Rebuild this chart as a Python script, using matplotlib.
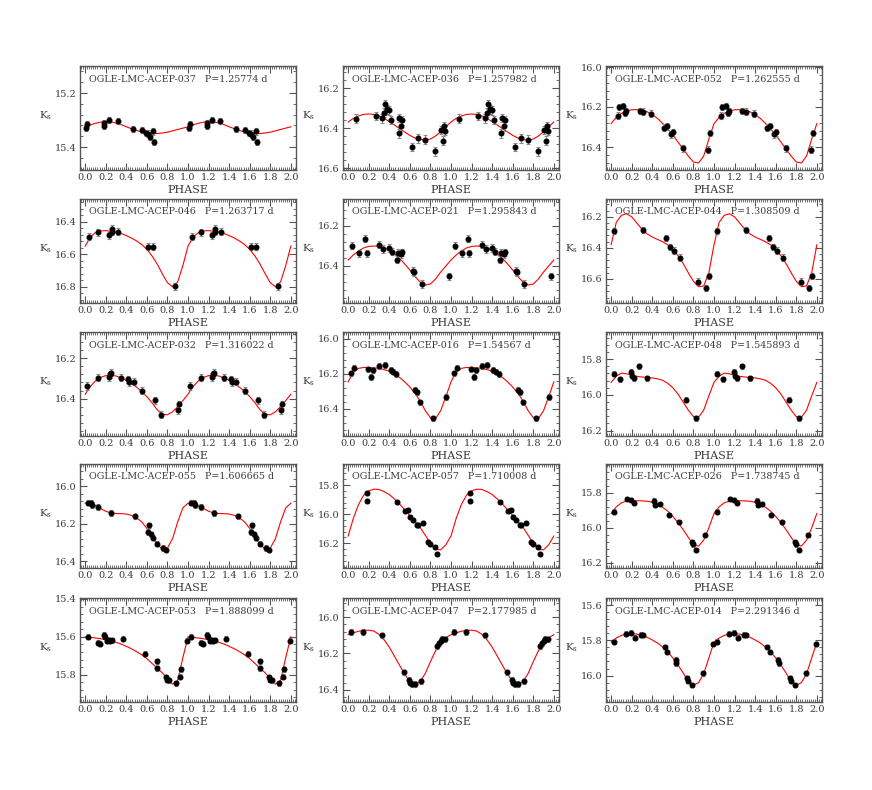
import numpy as np
import matplotlib
matplotlib.use("Agg")
import matplotlib.pyplot as plt
from matplotlib.ticker import MultipleLocator

plt.rcParams["font.family"] = ["DejaVu Serif"]
plt.rcParams["mathtext.fontset"] = "dejavuserif"

# phase grid of the red fit samples (one cycle)
fit_phase = np.arange(20) * 0.05

# ---- OGLE-LMC-ACEP-037
ph037 = [0.006, 0.02, 0.185, 0.185, 0.235, 0.315, 0.47, 0.55, 0.59, 0.61, 0.63, 0.66, 0.67]
k037 = [15.33, 15.314, 15.321, 15.311, 15.30, 15.303, 15.333, 15.337, 15.348, 15.35, 15.363, 15.342, 15.381]
fit037 = [15.325, 15.318, 15.312, 15.308, 15.306, 15.307, 15.311, 15.317, 15.325, 15.332,
          15.339, 15.344, 15.348, 15.35, 15.35, 15.348, 15.345, 15.34, 15.335, 15.33]

# ---- OGLE-LMC-ACEP-036
ph036 = [0.075, 0.266, 0.33, 0.346, 0.362, 0.381, 0.40, 0.42, 0.49, 0.496, 0.512, 0.528,
         0.618, 0.68, 0.749, 0.842, 0.906, 0.922, 0.931, 0.944]
k036 = [16.353, 16.34, 16.352, 16.323, 16.282, 16.307, 16.312, 16.36, 16.427, 16.35, 16.392, 16.362,
        16.495, 16.452, 16.459, 16.517, 16.41, 16.464, 16.392, 16.413]
fit036 = [16.37, 16.352, 16.34, 16.332, 16.33, 16.332, 16.34, 16.352, 16.368, 16.385,
          16.403, 16.42, 16.437, 16.45, 16.458, 16.46, 16.455, 16.44, 16.418, 16.393]

# ---- OGLE-LMC-ACEP-052
ph052 = [0.068, 0.074, 0.116, 0.135, 0.145, 0.277, 0.313, 0.387, 0.516, 0.542, 0.584, 0.60, 0.703, 0.942, 0.958]
k052 = [16.243, 16.20, 16.195, 16.23, 16.22, 16.22, 16.223, 16.233, 16.303, 16.297, 16.337, 16.327, 16.407, 16.413, 16.33]
fit052 = [16.283, 16.252, 16.232, 16.22, 16.214, 16.213, 16.216, 16.224, 16.238, 16.257,
          16.282, 16.31, 16.34, 16.375, 16.41, 16.445, 16.475, 16.48, 16.445, 16.36]

# ---- OGLE-LMC-ACEP-046
ph046 = [0.042, 0.129, 0.232, 0.258, 0.265, 0.323, 0.613, 0.658, 0.871]
k046 = [16.492, 16.466, 16.482, 16.462, 16.443, 16.462, 16.554, 16.554, 16.796]
fit046 = [16.55, 16.495, 16.467, 16.456, 16.455, 16.458, 16.463, 16.472, 16.485, 16.50,
          16.518, 16.54, 16.57, 16.61, 16.66, 16.72, 16.775, 16.80, 16.77, 16.67]

# ---- OGLE-LMC-ACEP-021
ph021 = [0.035, 0.106, 0.163, 0.179, 0.298, 0.342, 0.394, 0.426, 0.477, 0.483, 0.512, 0.522,
         0.634, 0.643, 0.714, 0.976]
k021 = [16.298, 16.337, 16.264, 16.337, 16.293, 16.315, 16.31, 16.329, 16.369, 16.334, 16.341, 16.332,
        16.425, 16.432, 16.49, 16.451]
fit021 = [16.37, 16.345, 16.325, 16.31, 16.302, 16.30, 16.302, 16.31, 16.322, 16.34,
          16.362, 16.39, 16.42, 16.453, 16.48, 16.495, 16.49, 16.465, 16.43, 16.40]

# ---- OGLE-LMC-ACEP-044
ph044 = [0.029, 0.313, 0.535, 0.571, 0.61, 0.671, 0.842, 0.926, 0.948]
k044 = [16.292, 16.286, 16.338, 16.392, 16.417, 16.462, 16.617, 16.658, 16.581]
fit044 = [16.38, 16.235, 16.19, 16.18, 16.20, 16.24, 16.28, 16.31, 16.33, 16.345,
          16.36, 16.38, 16.41, 16.45, 16.50, 16.56, 16.615, 16.65, 16.645, 16.56]

# ---- OGLE-LMC-ACEP-032
ph032 = [0.019, 0.123, 0.235, 0.239, 0.252, 0.348, 0.419, 0.426, 0.471, 0.555, 0.677, 0.742, 0.903, 0.913]
k032 = [16.338, 16.297, 16.293, 16.279, 16.272, 16.297, 16.305, 16.32, 16.316, 16.361, 16.408, 16.48, 16.456, 16.428]
fit032 = [16.378, 16.34, 16.312, 16.295, 16.286, 16.284, 16.288, 16.297, 16.31, 16.325,
          16.343, 16.365, 16.39, 16.42, 16.455, 16.478, 16.48, 16.465, 16.44, 16.41]

# ---- OGLE-LMC-ACEP-016
ph016 = [0.032, 0.055, 0.193, 0.219, 0.241, 0.302, 0.354, 0.412, 0.437, 0.463, 0.65, 0.669, 0.701, 0.826, 0.952]
k016 = [16.197, 16.164, 16.174, 16.216, 16.18, 16.155, 16.149, 16.178, 16.186, 16.20, 16.29, 16.306, 16.363, 16.454, 16.332]
fit016 = [16.245, 16.19, 16.168, 16.163, 16.163, 16.165, 16.168, 16.175, 16.185, 16.20,
          16.22, 16.245, 16.275, 16.31, 16.355, 16.41, 16.45, 16.455, 16.41, 16.33]

# ---- OGLE-LMC-ACEP-048
ph048 = [0.032, 0.084, 0.19, 0.203, 0.226, 0.271, 0.348, 0.729, 0.826]
k048 = [15.881, 15.913, 15.871, 15.892, 15.907, 15.841, 15.908, 16.027, 16.13]
fit048 = [15.93, 15.895, 15.878, 15.882, 15.89, 15.896, 15.90, 15.902, 15.905, 15.91,
          15.918, 15.935, 15.96, 15.995, 16.04, 16.085, 16.122, 16.125, 16.085, 16.005]

# ---- OGLE-LMC-ACEP-055
ph055 = [0.026, 0.055, 0.068, 0.129, 0.252, 0.484, 0.613, 0.623, 0.639, 0.658, 0.703, 0.755, 0.79]
k055 = [16.087, 16.087, 16.099, 16.111, 16.143, 16.161, 16.244, 16.209, 16.257, 16.274, 16.306, 16.329, 16.338]
fit055 = [16.09, 16.093, 16.103, 16.118, 16.133, 16.142, 16.145, 16.146, 16.148, 16.155,
          16.168, 16.19, 16.225, 16.27, 16.31, 16.335, 16.33, 16.28, 16.19, 16.115]

# ---- OGLE-LMC-ACEP-057
ph057 = [0.18, 0.18, 0.476, 0.553, 0.579, 0.605, 0.633, 0.666, 0.682, 0.727, 0.778, 0.80, 0.849, 0.865]
k057 = [15.855, 15.908, 15.915, 15.979, 15.97, 16.021, 16.041, 16.076, 16.076, 16.062, 16.191, 16.207, 16.225, 16.274]
fit057 = [16.15, 16.03, 15.935, 15.87, 15.84, 15.828, 15.83, 15.845, 15.865, 15.895,
          15.93, 15.97, 16.01, 16.05, 16.09, 16.145, 16.20, 16.242, 16.245, 16.21]

# ---- OGLE-LMC-ACEP-026
ph026 = [0.029, 0.152, 0.197, 0.226, 0.416, 0.426, 0.471, 0.558, 0.661, 0.787, 0.794, 0.823, 0.913]
k026 = [15.908, 15.836, 15.842, 15.857, 15.845, 15.868, 15.864, 15.928, 15.968, 16.083, 16.094, 16.128, 16.042]
fit026 = [15.918, 15.88, 15.857, 15.847, 15.845, 15.845, 15.846, 15.848, 15.854, 15.865,
          15.882, 15.905, 15.935, 15.97, 16.01, 16.055, 16.095, 16.105, 16.07, 16.00]

# ---- OGLE-LMC-ACEP-053
ph053 = [0.029, 0.129, 0.148, 0.187, 0.194, 0.21, 0.229, 0.245, 0.261, 0.371, 0.58, 0.703, 0.703,
         0.784, 0.794, 0.816, 0.881, 0.923, 0.929, 0.99]
k053 = [15.60, 15.632, 15.636, 15.588, 15.60, 15.62, 15.617, 15.62, 15.617, 15.61, 15.689, 15.728, 15.767,
        15.812, 15.826, 15.83, 15.844, 15.81, 15.771, 15.62]
fit053 = [15.60, 15.603, 15.606, 15.61, 15.615, 15.621, 15.629, 15.638, 15.65, 15.663,
          15.678, 15.695, 15.715, 15.74, 15.765, 15.79, 15.82, 15.85, 15.83, 15.71]

# ---- OGLE-LMC-ACEP-047
ph047 = [0.026, 0.145, 0.328, 0.547, 0.595, 0.605, 0.621, 0.653, 0.707, 0.868, 0.881, 0.90, 0.916, 0.939]
k047 = [16.082, 16.082, 16.10, 16.303, 16.346, 16.361, 16.368, 16.368, 16.353, 16.16, 16.145, 16.13, 16.119, 16.123]
fit047 = [16.097, 16.087, 16.078, 16.073, 16.072, 16.077, 16.095, 16.125, 16.165, 16.215,
          16.265, 16.315, 16.355, 16.37, 16.355, 16.31, 16.245, 16.185, 16.14, 16.113]

# ---- OGLE-LMC-ACEP-014
ph014 = [0.029, 0.142, 0.197, 0.235, 0.29, 0.313, 0.519, 0.545, 0.626, 0.635, 0.742, 0.748, 0.784, 0.897, 0.987]
k014 = [15.808, 15.762, 15.756, 15.785, 15.768, 15.771, 15.838, 15.867, 15.909, 15.93, 16.013, 16.032, 16.053, 15.987, 15.82]
fit014 = [15.81, 15.787, 15.772, 15.764, 15.762, 15.765, 15.772, 15.783, 15.798, 15.815,
          15.838, 15.865, 15.90, 15.94, 15.985, 16.035, 16.055, 16.04, 15.99, 15.90]

stars = [
    ("037", "1.25774", ph037, k037, fit037, 0.012, (15.485, 15.10)),
    ("036", "1.257982", ph036, k036, fit036, 0.022, (16.61, 16.09)),
    ("052", "1.262555", ph052, k052, fit052, 0.016, (16.515, 15.995)),
    ("046", "1.263717", ph046, k046, fit046, 0.022, (16.90, 16.26)),
    ("021", "1.295843", ph021, k021, fit021, 0.018, (16.585, 16.065)),
    ("044", "1.308509", ph044, k044, fit044, 0.02, (16.755, 16.085)),
    ("032", "1.316022", ph032, k032, fit032, 0.018, (16.585, 16.07)),
    ("016", "1.54567", ph016, k016, fit016, 0.016, (16.555, 15.96)),
    ("048", "1.545893", ph048, k048, fit048, 0.014, (16.23, 15.648)),
    ("055", "1.606665", ph055, k055, fit055, 0.015, (16.437, 15.88)),
    ("057", "1.710008", ph057, k057, fit057, 0.013, (16.37, 15.655)),
    ("026", "1.738745", ph026, k026, fit026, 0.013, (16.23, 15.635)),
    ("053", "1.888099", ph053, k053, fit053, 0.013, (15.944, 15.395)),
    ("047", "2.177985", ph047, k047, fit047, 0.014, (16.467, 15.895)),
    ("014", "2.291346", ph014, k014, fit014, 0.013, (16.15, 15.56)),
]

W, H = 872, 790
fig = plt.figure(figsize=(W / 100, H / 100), dpi=100)

col_left = [80, 343, 606]
row_top = [66, 199, 332, 464, 598]
aw, ah = 216, 104
frame = "#555555"
txt = "#3a3a3a"

for i, (sid, per, ph, mag, fit, err, ylim) in enumerate(stars):
    r, c = divmod(i, 3)
    ax = fig.add_axes([col_left[c] / W, 1 - (row_top[r] + ah) / H, aw / W, ah / H])

    ph = np.array(ph)
    mag = np.array(mag)
    x2 = np.concatenate([ph, ph + 1])
    y2 = np.concatenate([mag, mag])
    ax.errorbar(x2, y2, yerr=err, fmt="o", color="black", ms=3.3,
                ecolor="#8a8a8a", elinewidth=0.8, capsize=1.5, capthick=0.8, zorder=3)

    fx = np.concatenate([fit_phase, fit_phase + 1, [2.0]])
    fy = np.concatenate([fit, fit, [fit[0]]])
    ax.plot(fx, fy, color="red", lw=0.8, zorder=2)

    ax.set_xlim(-0.05, 2.05)
    ax.set_ylim(*ylim)
    ax.xaxis.set_major_locator(MultipleLocator(0.2))
    ax.xaxis.set_minor_locator(MultipleLocator(0.02))
    ax.yaxis.set_major_locator(MultipleLocator(0.2))
    ax.yaxis.set_minor_locator(MultipleLocator(0.04))
    ax.tick_params(which="both", direction="in", top=True, right=True,
                   colors=frame, labelcolor=txt, labelsize=7.0, pad=2.5)
    ax.tick_params(which="major", length=5, width=0.8)
    ax.tick_params(which="minor", length=2.5, width=0.6)
    ax.xaxis.set_major_formatter(plt.FuncFormatter(lambda v, p: f"{v:.1f}"))
    ax.yaxis.set_major_formatter(plt.FuncFormatter(lambda v, p: f"{v:.1f}"))
    for s in ax.spines.values():
        s.set_color(frame)
        s.set_linewidth(1.0)

    ax.set_xlabel("PHASE", fontsize=8, color=txt, labelpad=1.5)
    ax.text(-0.158, 0.52, r"K$_{\rm s}$", transform=ax.transAxes, fontsize=7.5,
            color=txt, ha="center", va="center")
    ax.text(0.04, 0.875, f"OGLE-LMC-ACEP-{sid}   P={per} d", transform=ax.transAxes,
            fontsize=6.8, color=txt, ha="left", va="center")

fig.savefig("out.png", dpi=100)
